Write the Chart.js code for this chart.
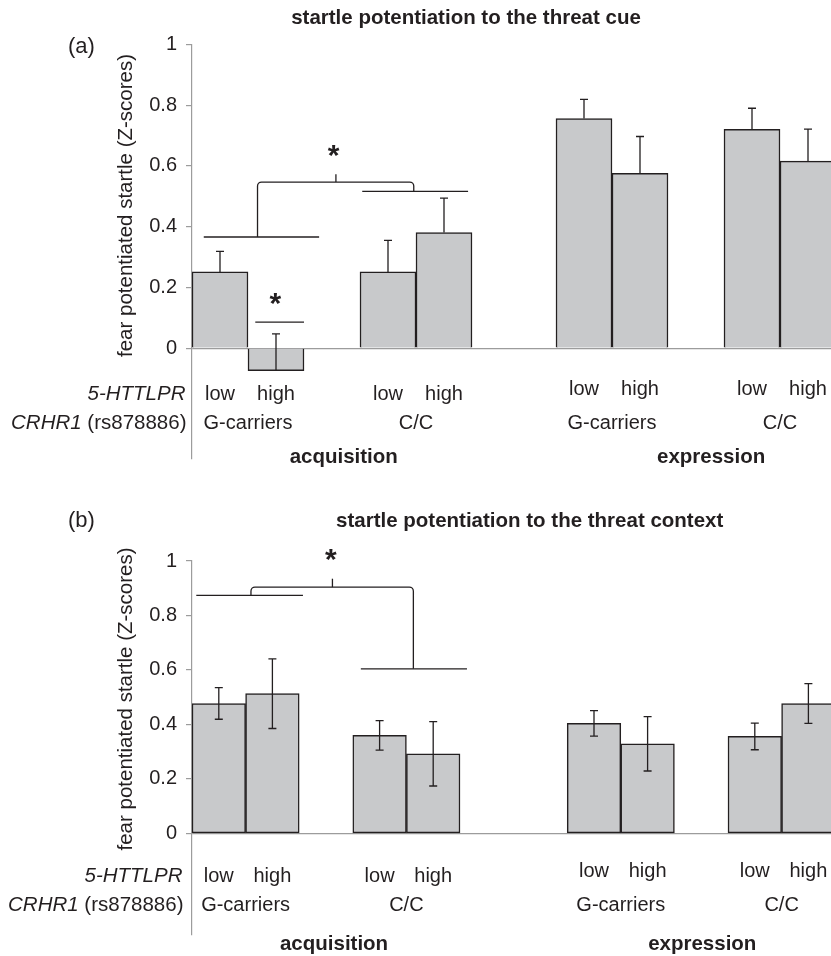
<!DOCTYPE html>
<html>
<head>
<meta charset="utf-8">
<script src="https://cdn.jsdelivr.net/npm/chart.js@4.4.1/dist/chart.umd.min.js"></script>
<style>
  body { margin: 0; background: #fff; }
  #wrap { position: relative; width: 831px; height: 956px; overflow: hidden; background: #fff; }
  canvas { position: absolute; left: 0; }
</style>
</head>
<body>
<div id="wrap">
  <canvas id="chartA" width="870" height="480" style="top:0"></canvas>
  <canvas id="chartB" width="841" height="476" style="top:480px"></canvas>
</div>
<script>
// ---- data ----
const phases = ['acquisition', 'expression'];
const genotypes = ['G-carriers', 'C/C'];      // CRHR1 (rs878886)
const alleles = ['low', 'high'];              // 5-HTTLPR
const yTicks = [0, 0.2, 0.4, 0.6, 0.8, 1];
const yTickLabels = ['0', '0.2', '0.4', '0.6', '0.8', '1'];

// bar order in each phase: G-carriers low, G-carriers high, C/C low, C/C high
const cueAcq = [0.251, -0.074, 0.251, 0.381];
const cueAcqErr = [0.068, 0.121, 0.104, 0.113];
const cueExp = [0.756, 0.576, 0.721, 0.616];
const cueExpErr = [0.063, 0.121, 0.069, 0.105];

const ctxAcq = [0.477, 0.513, 0.360, 0.292];
const ctxAcqErr = [0.058, 0.128, 0.054, 0.118];
const ctxExp = [0.404, 0.329, 0.356, 0.477];
const ctxExpErr = [0.047, 0.100, 0.049, 0.073];

// ---- look ----
const FONT = '"Liberation Sans", Arial, Helvetica, sans-serif';
const INK = '#231f20';
const AXIS = '#9c9c9c';
const BAR = '#c8c9cb';
const SLOTS = 12;              // one bar per slot on the category axis
const barSlots = [0, 1, 3, 4]; // empty slot between the genotypes
const expStart = 7;

const panelA = {
  canvas: 'chartA', slot: 56, areaTop: 44.5, areaBottom: 463, yMin: -0.365,
  halfShift: true, errMode: 'plus', skip: 'start', scaleZ: 1,
  acq: cueAcq, acqErr: cueAcqErr, exp: cueExp, expErr: cueExpErr,
  tag: '(a)', tagBase: 53, title: 'startle potentiation to the threat cue', titleX: 466, titleBase: 24,
  yTitleY: 205.5, rightX: 186.5,
  base: { alleleAcq: 400, alleleExp: 395, geno: 429, phase: 463 },
  phaseX: [2.21, 8.77],
  lines: [
    [[0.63, 0.086], [1.5, 0.086]],
    [[-0.29, 0.366], [1.77, 0.366]],
    [[2.54, 0.516], [4.43, 0.516]],
    [[0.67, 0.366], [0.67, 0.547], [3.46, 0.547], [3.46, 0.516]],
    [[2.07, 0.547], [2.07, 0.573]]
  ],
  stars: [[0.99, 0.161], [2.03, 0.650]]
};

const panelB = {
  canvas: 'chartB', slot: 53.6, areaTop: 81, areaBottom: 470, yMin: -0.373,
  halfShift: false, errMode: 'both', skip: false, scaleZ: 0,
  acq: ctxAcq, acqErr: ctxAcqErr, exp: ctxExp, expErr: ctxExpErr,
  tag: '(b)', tagBase: 46.7, title: 'startle potentiation to the threat context', titleX: 529.7, titleBase: 46.7,
  yTitleY: 219, rightX: 183.5,
  base: { alleleAcq: 401.7, alleleExp: 396.7, geno: 430.7, phase: 470 },
  phaseX: [2.15, 9.02],
  lines: [
    [[-0.42, 0.874], [1.57, 0.874]],
    [[2.65, 0.604], [4.63, 0.604]],
    [[0.60, 0.874], [0.60, 0.904], [3.63, 0.904], [3.63, 0.604]],
    [[2.12, 0.904], [2.12, 0.935]]
  ],
  stars: [[2.09, 1.021]]
};

function place(vals, len, start) {
  const out = Array(len).fill(null);
  barSlots.forEach((s, i) => { out[start + s] = vals[i]; });
  return out;
}

function decor(p) {
  return {
    id: 'decor',
    afterDatasetsDraw(chart) {
      const { ctx } = chart;
      const y = chart.scales.y;
      ctx.save();
      ctx.strokeStyle = INK;
      ctx.lineWidth = 1.3;
      chart.data.datasets.forEach((ds, di) => {
        chart.getDatasetMeta(di).data.forEach((bar, i) => {
          const v = ds.data[i];
          if (v === null) return;
          const e = ds.errors[i];
          const top = y.getPixelForValue(v + e);
          const bot = p.errMode === 'plus' ? bar.y : y.getPixelForValue(v - e);
          ctx.beginPath();
          ctx.moveTo(bar.x, bot); ctx.lineTo(bar.x, top);
          ctx.moveTo(bar.x - 4, top); ctx.lineTo(bar.x + 4, top);
          if (p.errMode !== 'plus') { ctx.moveTo(bar.x - 4, bot); ctx.lineTo(bar.x + 4, bot); }
          ctx.stroke();
        });
      });
      ctx.restore();
    },
    afterDraw(chart) {
      const { ctx } = chart;
      const x = chart.scales.xA, y = chart.scales.y;
      ctx.save();
      ctx.fillStyle = INK;
      ctx.strokeStyle = INK;
      ctx.lineWidth = 1.3;

      // significance brackets
      p.lines.forEach(pts => {
        const q = pts.map(([u, v]) => [x.getPixelForValue(u), y.getPixelForValue(v)]);
        ctx.beginPath();
        ctx.moveTo(q[0][0], q[0][1]);
        for (let i = 1; i < q.length - 1; i++) ctx.arcTo(q[i][0], q[i][1], q[i + 1][0], q[i + 1][1], 4);
        ctx.lineTo(q[q.length - 1][0], q[q.length - 1][1]);
        ctx.stroke();
      });
      ctx.font = 'bold 30px ' + FONT;
      ctx.textAlign = 'center';
      ctx.textBaseline = 'alphabetic';
      const m = ctx.measureText('*');
      p.stars.forEach(([u, v]) => {
        const cy = y.getPixelForValue(v);
        ctx.fillText('*', x.getPixelForValue(u), cy + (m.actualBoundingBoxAscent - m.actualBoundingBoxDescent) / 2);
      });

      // titles
      ctx.font = 'bold 20.5px ' + FONT;
      ctx.fillText(p.title, p.titleX, p.titleBase);
      ctx.textAlign = 'left';
      ctx.font = '22px ' + FONT;
      ctx.fillText(p.tag, 68, p.tagBase);

      // y axis title
      ctx.save();
      ctx.translate(132, p.yTitleY);
      ctx.rotate(-Math.PI / 2);
      ctx.textAlign = 'center';
      ctx.font = '20.5px ' + FONT;
      ctx.fillText('fear potentiated startle (Z-scores)', 0, 0);
      ctx.restore();

      // row headings
      ctx.textAlign = 'right';
      ctx.font = 'italic 20.5px ' + FONT;
      ctx.fillText('5-HTTLPR', p.rightX - 1, p.base.alleleAcq);
      ctx.font = '20.5px ' + FONT;
      const rest = ' (rs878886)';
      ctx.fillText(rest, p.rightX, p.base.geno);
      const w = ctx.measureText(rest).width;
      ctx.font = 'italic 20.5px ' + FONT;
      ctx.fillText('CRHR1', p.rightX - w, p.base.geno);

      // category labels under the bars
      ctx.textAlign = 'center';
      ctx.font = '20px ' + FONT;
      chart.data.datasets.forEach((ds, di) => {
        const bars = chart.getDatasetMeta(di).data.filter((b, i) => ds.data[i] !== null);
        const rowY = di === 0 ? p.base.alleleAcq : p.base.alleleExp;
        bars.forEach((b, i) => ctx.fillText(alleles[i % 2], b.x, rowY));
        genotypes.forEach((g, gi) => {
          ctx.fillText(g, (bars[gi * 2].x + bars[gi * 2 + 1].x) / 2, p.base.geno);
        });
      });
      ctx.font = 'bold 20.5px ' + FONT;
      phases.forEach((ph, i) => ctx.fillText(ph, x.getPixelForValue(p.phaseX[i]), p.base.phase));
      ctx.restore();
    }
  };
}

function buildPanel(p) {
  const el = document.getElementById(p.canvas);
  const eLen = p.halfShift ? SLOTS + 1 : SLOTS;
  const labelsA = Array.from({ length: SLOTS }, (_, i) => 'a' + i);
  const labelsE = Array.from({ length: eLen }, (_, i) => 'e' + i);
  const barStyle = {
    backgroundColor: BAR, borderColor: INK, borderWidth: 1.5, borderSkipped: p.skip,
    categoryPercentage: 1, barPercentage: 1, grouped: false
  };
  new Chart(el, {
    type: 'bar',
    data: {
      datasets: [
        Object.assign({ label: phases[0], xAxisID: 'xA', data: place(p.acq, SLOTS, 0), errors: place(p.acqErr, SLOTS, 0) }, barStyle),
        Object.assign({ label: phases[1], xAxisID: 'xE', data: place(p.exp, eLen, expStart), errors: place(p.expErr, eLen, expStart) }, barStyle)
      ]
    },
    options: {
      responsive: false,
      animation: false,
      layout: {
        padding: { left: 100, top: p.areaTop, bottom: el.height - p.areaBottom, right: el.width - 192 - SLOTS * p.slot }
      },
      plugins: { legend: { display: false }, tooltip: { enabled: false } },
      scales: {
        xA: { type: 'category', labels: labelsA, offset: true, display: false },
        xE: { type: 'category', labels: labelsE, offset: !p.halfShift, display: false },
        y: {
          min: p.yMin, max: 1, z: p.scaleZ,
          afterBuildTicks: s => { s.ticks = yTicks.map(v => ({ value: v })); },
          afterFit: s => { s.width = 92; },
          ticks: {
            color: INK, padding: 9, font: { family: FONT, size: 20 },
            callback: (v, i) => yTickLabels[i]
          },
          grid: {
            color: c => (c.tick && c.tick.value === 0 ? AXIS : 'rgba(0,0,0,0)'),
            tickColor: AXIS, tickLength: 6, lineWidth: 1.2
          },
          border: { color: AXIS, width: 1.2 }
        }
      }
    },
    plugins: [decor(p)]
  });
}

buildPanel(panelA);
buildPanel(panelB);
</script>
</body>
</html>
